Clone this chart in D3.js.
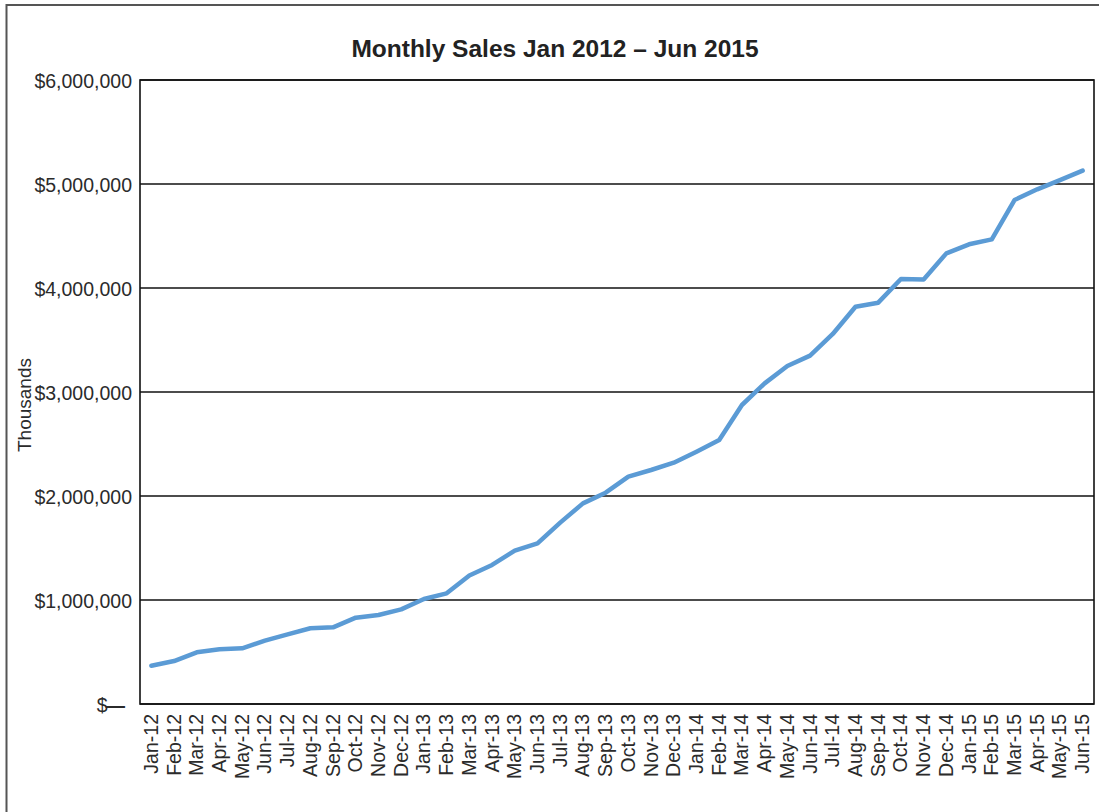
<!DOCTYPE html>
<html>
<head>
<meta charset="utf-8">
<script src="https://cdn.jsdelivr.net/npm/d3@7"></script>
<style>
  body { margin: 0; background: #fff; }
  text { font-family: "Liberation Sans", Arial, Helvetica, sans-serif; fill: #2b2b2b; }
</style>
</head>
<body>
<div id="chart"></div>
<script>
// month labels Jan-12 .. Jun-15
var months = ["Jan-12", "Feb-12", "Mar-12", "Apr-12", "May-12", "Jun-12", "Jul-12", "Aug-12", "Sep-12", "Oct-12", "Nov-12", "Dec-12",
    "Jan-13", "Feb-13", "Mar-13", "Apr-13", "May-13", "Jun-13", "Jul-13", "Aug-13", "Sep-13", "Oct-13", "Nov-13", "Dec-13",
    "Jan-14", "Feb-14", "Mar-14", "Apr-14", "May-14", "Jun-14", "Jul-14", "Aug-14", "Sep-14", "Oct-14", "Nov-14", "Dec-14",
    "Jan-15", "Feb-15", "Mar-15", "Apr-15", "May-15", "Jun-15"];

// monthly sales
var sales = [368000, 413000, 497000, 526000, 535000, 609000, 670000, 728000, 737000, 830000, 856000, 910000,
    1010000, 1064000, 1235000, 1337000, 1474000, 1545000, 1744000, 1929000, 2032000, 2186000, 2250000, 2320000,
    2426000, 2538000, 2875000, 3083000, 3250000, 3350000, 3558000, 3820000, 3859000, 4087000, 4082000, 4333000,
    4420000, 4468000, 4846000, 4949000, 5038000, 5128000];

var yTicks = [0, 1000000, 2000000, 3000000, 4000000, 5000000, 6000000];

var data = months.map(function (m, i) {
    return { month: m, value: sales[i] };
});

var width = 1099,
    height = 812,
    margin = { top: 80, right: 5, bottom: 108, left: 140 },
    innerW = width - margin.left - margin.right,
    innerH = height - margin.top - margin.bottom;

var svg = d3.select("#chart")
    .append("svg")
    .attr("width", width)
    .attr("height", height);

// outer frame
svg.append("rect")
    .attr("x", 6.5)
    .attr("y", 5)
    .attr("width", 1100)
    .attr("height", 820)
    .attr("fill", "none")
    .attr("stroke", "#555")
    .attr("stroke-width", 2);

svg.append("text")
    .attr("x", 555)
    .attr("y", 57)
    .attr("text-anchor", "middle")
    .style("font-size", "24.5px")
    .style("font-weight", "bold")
    .style("fill", "#222")
    .text("Monthly Sales Jan 2012 \u2013 Jun 2015");

var g = svg.append("g")
    .attr("transform", "translate(" + margin.left + "," + margin.top + ")");

var x = d3.scaleBand()
    .domain(months)
    .range([0, innerW]);

var y = d3.scaleLinear()
    .domain([0, 6000000])
    .range([innerH, 0]);

// gridlines
g.selectAll(".grid")
    .data(yTicks)
    .enter()
    .append("line")
    .attr("class", "grid")
    .attr("x1", 0)
    .attr("x2", innerW)
    .attr("y1", d => y(d))
    .attr("y2", d => y(d))
    .attr("stroke", "#111")
    .attr("stroke-width", 1.3);

// y axis labels
var fmt = d3.format("$,.0f");
var yAxis = d3.axisLeft(y)
    .tickValues(yTicks)
    .tickSize(0)
    .tickPadding(8)
    .tickFormat(d => d === 0 ? "$" : fmt(d));

var yLabels = g.append("g")
    .attr("class", "y-axis")
    .call(yAxis)
    .call(s => s.select(".domain").remove())
    .selectAll("text")
    .style("font-size", "19.5px")
    .style("font-family", "'Liberation Sans', Arial, sans-serif")
    .style("fill", "#2b2b2b")
    .attr("dy", "0.38em");

// zero label gets a heavy dash like the accounting format
yLabels.filter(d => d === 0)
    .attr("dx", -7)
    .append("tspan")
    .style("font-weight", "bold")
    .attr("dx", -2)
    .text("\u2014");

// x axis labels, rotated
var xAxis = d3.axisBottom(x)
    .tickSize(0)
    .tickPadding(0);

g.append("g")
    .attr("class", "x-axis")
    .attr("transform", "translate(0," + innerH + ")")
    .call(xAxis)
    .call(s => s.select(".domain").remove())
    .selectAll("text")
    .style("font-size", "19.5px")
    .style("font-family", "'Liberation Sans', Arial, sans-serif")
    .style("fill", "#2b2b2b")
    .attr("text-anchor", "end")
    .attr("transform", "rotate(-90)")
    .attr("x", -10)
    .attr("y", 0)
    .attr("dy", "0.33em");

// plot frame
g.append("rect")
    .attr("x", 0)
    .attr("y", 0)
    .attr("width", innerW)
    .attr("height", innerH)
    .attr("fill", "none")
    .attr("stroke", "#111")
    .attr("stroke-width", 1.6);

// sales line
g.append("path")
    .datum(data)
    .attr("fill", "none")
    .attr("stroke", "#5b9bd5")
    .attr("stroke-width", 4.5)
    .attr("stroke-linejoin", "round")
    .attr("stroke-linecap", "round")
    .attr("d", d3.line()
        .x(d => x(d.month) + x.bandwidth() / 2)
        .y(d => y(d.value)));

// y axis title
svg.append("text")
    .attr("transform", "translate(31,405) rotate(-90)")
    .attr("text-anchor", "middle")
    .style("font-size", "19px")
    .text("Thousands");
</script>
</body>
</html>
